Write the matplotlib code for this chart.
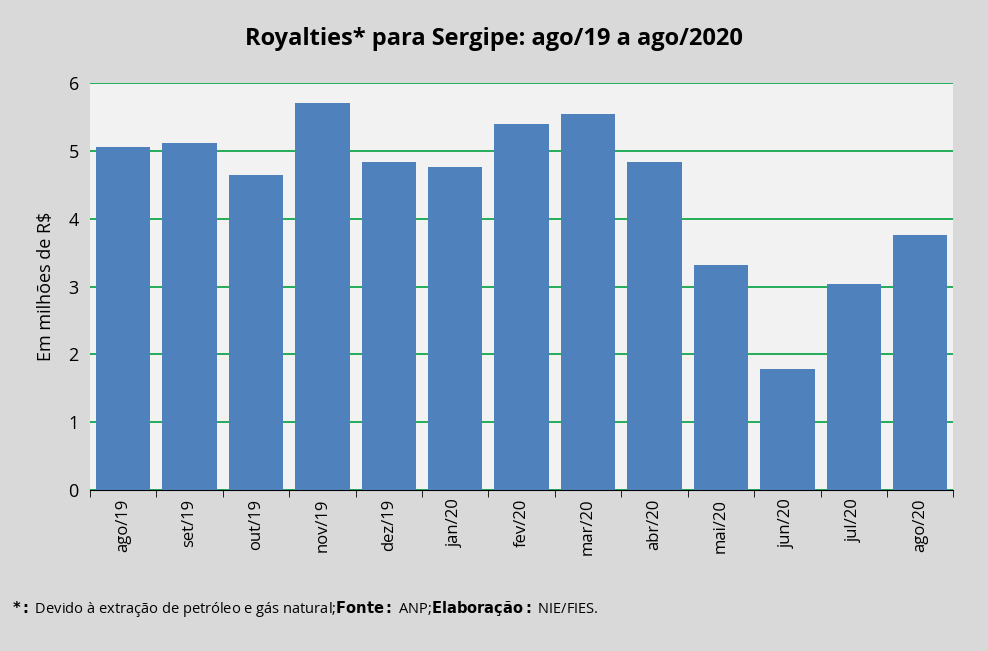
import matplotlib
matplotlib.use("Agg")
import matplotlib.pyplot as plt
import numpy as np

categories = ["ago/19","set/19","out/19","nov/19","dez/19","jan/20","fev/20","mar/20","abr/20","mai/20","jun/20","jul/20","ago/20"]
values = [5.06,5.12,4.65,5.71,4.84,4.76,5.40,5.55,4.84,3.32,1.78,3.04,3.76]
yticks = [0,1,2,3,4,5,6]

plt.rcParams['font.family'] = ['Open Sans', 'DejaVu Sans']
fig = plt.figure(figsize=(9.88,6.51), dpi=100, facecolor="#d9d9d9")
ax = fig.add_axes([0.091,0.247,0.874,0.6255], facecolor="#f2f2f2")
x = np.arange(len(categories))
ax.bar(x, values, width=0.82, color="#4f81bd", zorder=3)
ax.set_xlim(-0.5, len(categories)-0.5)
ax.set_ylim(0,6)
ax.set_yticks(yticks)
ax.yaxis.grid(True, color="#00a040", linewidth=1.2, zorder=0)
ax.set_xticks(x)
ax.set_xticklabels(categories, rotation=90, fontsize=12)
ax.set_xticks(np.arange(-0.5,len(categories)), minor=True)
ax.tick_params(axis='x', which='major', length=0, pad=6)
ax.tick_params(axis='x', which='minor', length=5, color='black', direction='out')
ax.tick_params(axis='y', length=0, labelsize=13, pad=8)
for s in ['top','right','left']:
    ax.spines[s].set_visible(False)
ax.spines['bottom'].set_color('black')
ax.set_ylabel("Em milhões de R$", fontsize=13, labelpad=10)
fig.text(0.5,0.94,"Royalties* para Sergipe: ago/19 a ago/2020", ha='center', va='center', fontsize=17, fontweight='bold')
fig.text(0.012,0.065,r"$\bf{*:}$ Devido à extração de petróleo e gás natural;$\bf{Fonte:}$ ANP;$\bf{Elaboração:}$ NIE/FIES.", fontsize=10.5, va='center')
fig.savefig("out.png", dpi=100, facecolor=fig.get_facecolor())
